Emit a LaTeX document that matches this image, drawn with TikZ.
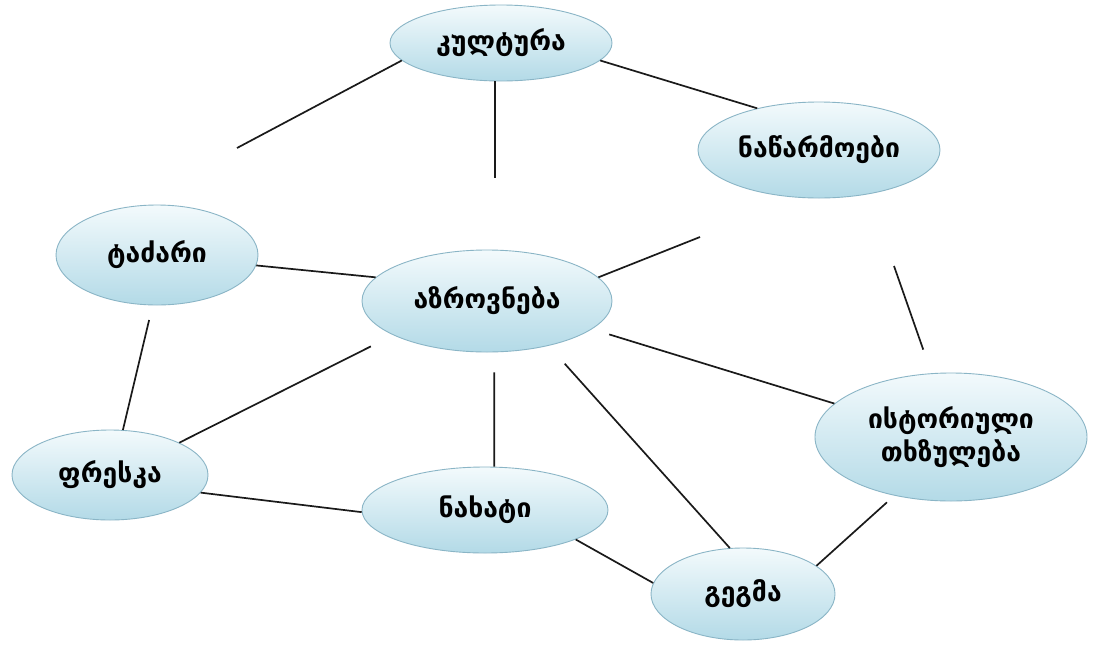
\documentclass[tikz,border=0pt]{standalone}
\usepackage{fontspec}
\setmainfont{DejaVu Sans}
\usetikzlibrary{shapes.geometric}
\begin{document}
\begin{tikzpicture}[x=1pt,y=-1pt,
  bubble/.style={ellipse, draw=bordercol, line width=0.9pt, top color=topcol, bottom color=botcol,
     inner sep=0pt, font=\bfseries\fontsize{26.5}{33}\selectfont, align=center},
  link/.style={draw=linecol, line width=1.7pt}]
\definecolor{bordercol}{HTML}{8AB5C6}
\definecolor{topcol}{HTML}{F3FAFC}
\definecolor{botcol}{HTML}{B3DAE7}
\definecolor{linecol}{HTML}{1A1A1A}
\useasboundingbox (0,0) rectangle (1093,651);
\fill[white] (0,0) rectangle (1093,651);
% nodes
\node[bubble, minimum width=222pt, minimum height=76pt] (K) at (501,43) {კულტურა};
\node[bubble, minimum width=242pt, minimum height=96pt] (N) at (819,150) {ნაწარმოები};
\node[bubble, minimum width=202pt, minimum height=100pt] (T) at (157,255) {ტაძარი};
\node[bubble, minimum width=250pt, minimum height=102pt] (A) at (487,301) {აზროვნება};
\node[bubble, minimum width=272pt, minimum height=128pt] (I) at (951,437) {ისტორიული\\თხზულება};
\node[bubble, minimum width=196pt, minimum height=90pt] (F) at (110,475) {ფრესკა};
\node[bubble, minimum width=246pt, minimum height=86pt] (X) at (485,510) {ნახატი};
\node[bubble, minimum width=184pt, minimum height=92pt] (G) at (743,594) {გეგმა};
% free ends
\coordinate (f1) at (237,148);
\coordinate (f2) at (495,178);
\coordinate (f3) at (700,237);
\coordinate (f4) at (894,266);
% connectors
\draw[link] (K.190) -- (f1);
\draw[link] (K.south -| f2) -- (f2);
\draw[link] (K.-10) -- (N.146);
\draw[link] (A.12) -- (f3);
\draw[link, shorten >=25pt] (f4) -- (I.107);
\draw[link] (T.-6) -- (A.168);
\draw[link, shorten <=15pt] (T.-95) -- (F.74);
\draw[link, shorten >=25pt] (F.25) -- (A.200);
\draw[link, shorten <=20pt] (A.-82) -- (X.78);
\draw[link, shorten <=24pt] (A.-36) -- (G.106);
\draw[link, shorten <=18pt] (A.-15) -- (I.164);
\draw[link] (F.-11) -- (X.181);
\draw[link] (X.-18) -- (G.173);
\draw[link, shorten >=10pt] (G.21) -- (I.226);
\end{tikzpicture}
\end{document}
